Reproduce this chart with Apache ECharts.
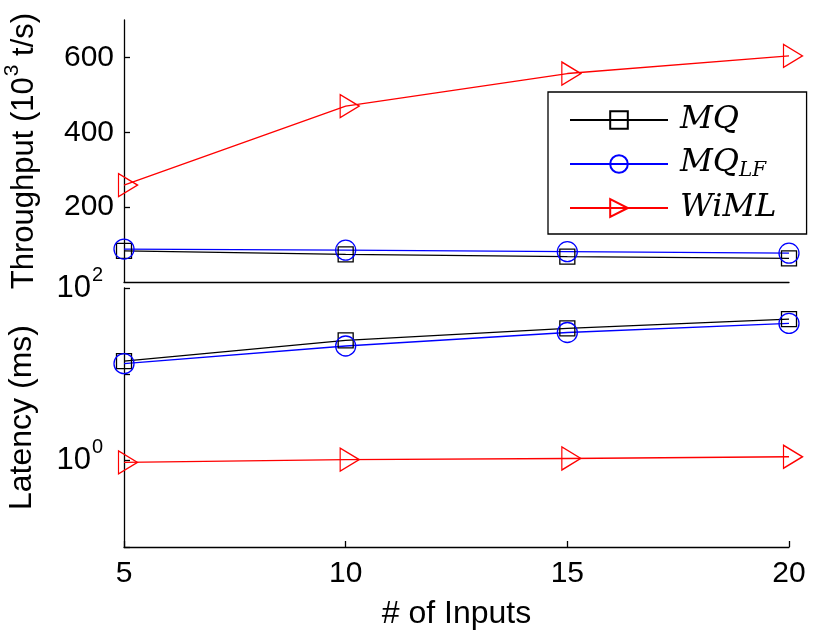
<!DOCTYPE html>
<html>
<head>
<meta charset="utf-8">
<script src="https://cdn.jsdelivr.net/npm/echarts@6/dist/echarts.min.js"></script>
<style>
  html, body { margin: 0; padding: 0; background: #fff; }
  #chart { width: 830px; height: 630px; }
</style>
</head>
<body>
<div id="chart"></div>
<script>
(function () {
  "use strict";

  var inputs = [5, 10, 15, 20];
  var seriesNames = ["MQ", "MQLF", "WiML"];

  // throughput, 10^3 t/s
  var mqThroughput = [83, 74, 68, 63];
  var mqlfThroughput = [88, 85, 81, 77];
  var wimlThroughput = [259, 470, 557, 604];

  // latency, ms (log axis)
  var mqLatency = [14.2, 24.8, 34, 43.6];
  var mqlfLatency = [13.3, 21.3, 30.5, 38.9];
  var wimlLatency = [0.955, 1.03, 1.06, 1.11];

  var throughputTicks = [200, 400, 600];
  var latencyLabels = [1, 100];

  var FONT = "Liberation Sans, Arial, sans-serif";
  var AXIS = { lineStyle: { color: "#000", width: 1.3 } };

  function pairs(ys) {
    return inputs.map(function (x, i) { return [x, ys[i]]; });
  }

  var styles = {
    MQ: { color: "#000", symbol: "rect", size: 15, rotate: 0, offset: [0, 0] },
    MQLF: { color: "#0000ff", symbol: "circle", size: 20, rotate: 0, offset: [0, 0] },
    WiML: { color: "#ff0000", symbol: "triangle", size: [23, 19], rotate: -90, offset: [4, 0] }
  };

  function makeSeries(name, ys, gi) {
    var s = styles[name];
    return {
      name: name,
      type: "line",
      xAxisIndex: gi,
      yAxisIndex: gi,
      data: pairs(ys),
      symbol: s.symbol,
      symbolSize: s.size,
      symbolRotate: s.rotate,
      symbolOffset: s.offset,
      showAllSymbol: true,
      color: s.color,
      lineStyle: { color: s.color, width: 1.3 },
      itemStyle: { color: "rgba(0,0,0,0)", borderColor: s.color, borderWidth: 1.3 },
      emphasis: { disabled: true },
      z: name === "WiML" ? 3 : 2
    };
  }

  // "10" with a raised exponent: tall line box for the base, short top-aligned box for the exponent
  var supRich = {
    b: { fontSize: 31, fontFamily: FONT, color: "#000", lineHeight: 46 },
    s: { fontSize: 20, fontFamily: FONT, color: "#000", lineHeight: 20, verticalAlign: "top", padding: [0, 0, 0, 1] }
  };

  var chart = echarts.init(document.getElementById("chart"));
  chart.setOption({
    animation: false,
    backgroundColor: "#fff",
    textStyle: { fontFamily: FONT, color: "#000" },
    grid: [
      { left: 124, right: 41, top: 20, height: 262, outerBoundsMode: "none" },
      { left: 124, right: 41, top: 288, height: 259, outerBoundsMode: "none" }
    ],
    legend: {
      data: seriesNames,
      orient: "vertical",
      left: 548,
      top: 92,
      padding: [12, 30, 10, 21],
      itemWidth: 98,
      itemHeight: 22,
      itemGap: 11,
      selectedMode: false,
      backgroundColor: "#fff",
      borderColor: "#000",
      borderWidth: 1.3,
      formatter: function (name) {
        if (name === "MQLF") return "{i|MQ}{sub|LF}";
        return "{i|" + name + "}";
      },
      textStyle: {
        padding: [0, 0, 0, 7],
        rich: {
          i: { fontFamily: "DejaVu Serif", fontStyle: "italic", fontSize: 32, color: "#000", verticalAlign: "top" },
          sub: { fontFamily: "DejaVu Serif", fontStyle: "italic", fontSize: 20, color: "#000", verticalAlign: "top", padding: [14, 0, 0, 0] }
        }
      }
    },
    xAxis: [
      {
        gridIndex: 0, type: "value", min: 5, max: 20, interval: 5,
        axisLine: AXIS, axisTick: { show: false }, axisLabel: { show: false }, splitLine: { show: false }
      },
      {
        gridIndex: 1, type: "value", min: 5, max: 20, interval: 5,
        axisLine: AXIS,
        axisTick: { inside: true, length: 6, lineStyle: { color: "#000", width: 1.3 } },
        axisLabel: { fontSize: 30, color: "#000", margin: 12 },
        splitLine: { show: false },
        name: "# of Inputs", nameLocation: "middle", nameGap: 51,
        nameTextStyle: { fontSize: 32, color: "#000" }
      }
    ],
    yAxis: [
      {
        gridIndex: 0, type: "value", min: 0, max: 700, interval: 200,
        axisLine: AXIS,
        axisTick: { inside: true, length: 6, customValues: throughputTicks, lineStyle: { color: "#000", width: 1.3 } },
        axisLabel: {
          fontSize: 30, color: "#000", margin: 10, customValues: throughputTicks,
          formatter: function (v) { return throughputTicks.indexOf(v) >= 0 ? String(v) : ""; }
        },
        splitLine: { show: false },
        name: "{n|Throughput (10}{s|3}{n| t/s)}",
        nameLocation: "middle", nameGap: 78,
        nameTextStyle: {
          rich: {
            n: { fontSize: 31, fontFamily: FONT, color: "#000", lineHeight: 44 },
            s: { fontSize: 21, fontFamily: FONT, color: "#000", lineHeight: 21, verticalAlign: "top", padding: [0, 0, 0, 1] }
          }
        }
      },
      {
        gridIndex: 1, type: "log", logBase: 10, min: 0.1, max: 100,
        axisLine: AXIS,
        axisTick: { inside: true, length: 6, lineStyle: { color: "#000", width: 1.3 } },
        axisLabel: {
          margin: 21, customValues: latencyLabels,
          formatter: function (v) {
            if (Math.abs(v - 1) < 1e-9) return "{b|10}{s|0}";
            if (Math.abs(v - 100) < 1e-6) return "{b|10}{s|2}";
            return "";
          },
          rich: supRich
        },
        splitLine: { show: false },
        name: "Latency (ms)", nameLocation: "middle", nameGap: 86,
        nameTextStyle: { fontSize: 32, color: "#000" }
      }
    ],
    series: [
      makeSeries("MQ", mqThroughput, 0),
      makeSeries("MQLF", mqlfThroughput, 0),
      makeSeries("WiML", wimlThroughput, 0),
      makeSeries("MQ", mqLatency, 1),
      makeSeries("MQLF", mqlfLatency, 1),
      makeSeries("WiML", wimlLatency, 1)
    ]
  });
})();
</script>
</body>
</html>
